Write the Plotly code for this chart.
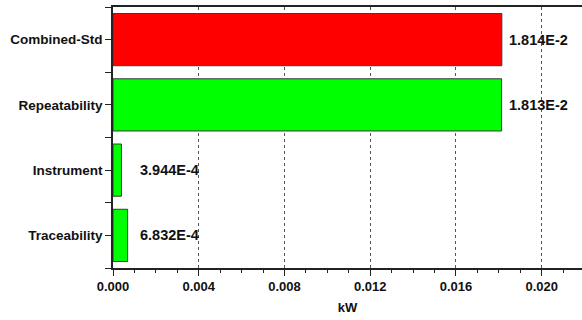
import plotly.graph_objects as go

# Uncertainty budget components (kW)
components = ["Combined-Std", "Repeatability", "Instrument", "Traceability"]
values = [1.814e-2, 1.813e-2, 3.944e-4, 6.832e-4]
value_labels = ["1.814E-2", "1.813E-2", "3.944E-4", "6.832E-4"]
bar_colors = ["#FF0000", "#00FF00", "#00FF00", "#00FF00"]
label_offsets = [5, 5, 17, 10]

x_ticks = [0.000, 0.004, 0.008, 0.012, 0.016, 0.020]

positions = list(range(len(components) - 1, -1, -1))

fig = go.Figure()
fig.add_trace(go.Bar(
    y=positions,
    x=values,
    orientation="h",
    width=0.8,
    marker=dict(color=bar_colors, line=dict(color="#3a3a3a", width=1)),
    hoverinfo="skip",
))

for pos, val, lab, off in zip(positions, values, value_labels, label_offsets):
    fig.add_annotation(
        x=val, y=pos, text=lab, showarrow=False,
        xanchor="left", yanchor="middle", xshift=off,
        font=dict(family="Liberation Sans, Arial", size=14.5, color="#111111", weight="bold"),
    )

font_main = dict(family="Liberation Sans, Arial", size=13, color="#111111", weight="bold")
font_cat = dict(family="Liberation Sans, Arial", size=13.5, color="#111111", weight="bold")

fig.update_layout(
    width=582, height=320,
    margin=dict(l=113, r=0, t=7, b=52),
    plot_bgcolor="white", paper_bgcolor="white",
    showlegend=False,
    font=font_main,
    xaxis=dict(
        range=[0, 0.02188],
        tickvals=x_ticks,
        tickformat=".3f",
        ticks="outside", ticklen=6, tickwidth=1.3, tickcolor="#222",
        showline=True, linecolor="#222", linewidth=1.5, mirror=True,
        showgrid=True, gridcolor="#555", griddash="dot", gridwidth=1,
        zeroline=False,
        minor=dict(dtick=0.001, tick0=0, ticks="outside", ticklen=3,
                   tickcolor="#222", tickwidth=1, showgrid=False),
        title=dict(text="kW", font=font_main, standoff=10),
        tickfont=font_main,
    ),
    yaxis=dict(
        range=[-0.5, len(components) - 0.5],
        tickvals=positions,
        ticktext=components,
        ticks="outside", ticklen=6, tickwidth=1.3, tickcolor="#222",
        showline=True, linecolor="#222", linewidth=1.5,
        showgrid=False, zeroline=False,
        minor=dict(tickvals=[p - 0.5 for p in range(len(components) + 1)],
                   ticks="outside", ticklen=6, tickcolor="#222", tickwidth=1,
                   showgrid=False),
        tickfont=font_cat,
    ),
)

fig.write_html("out.html")
